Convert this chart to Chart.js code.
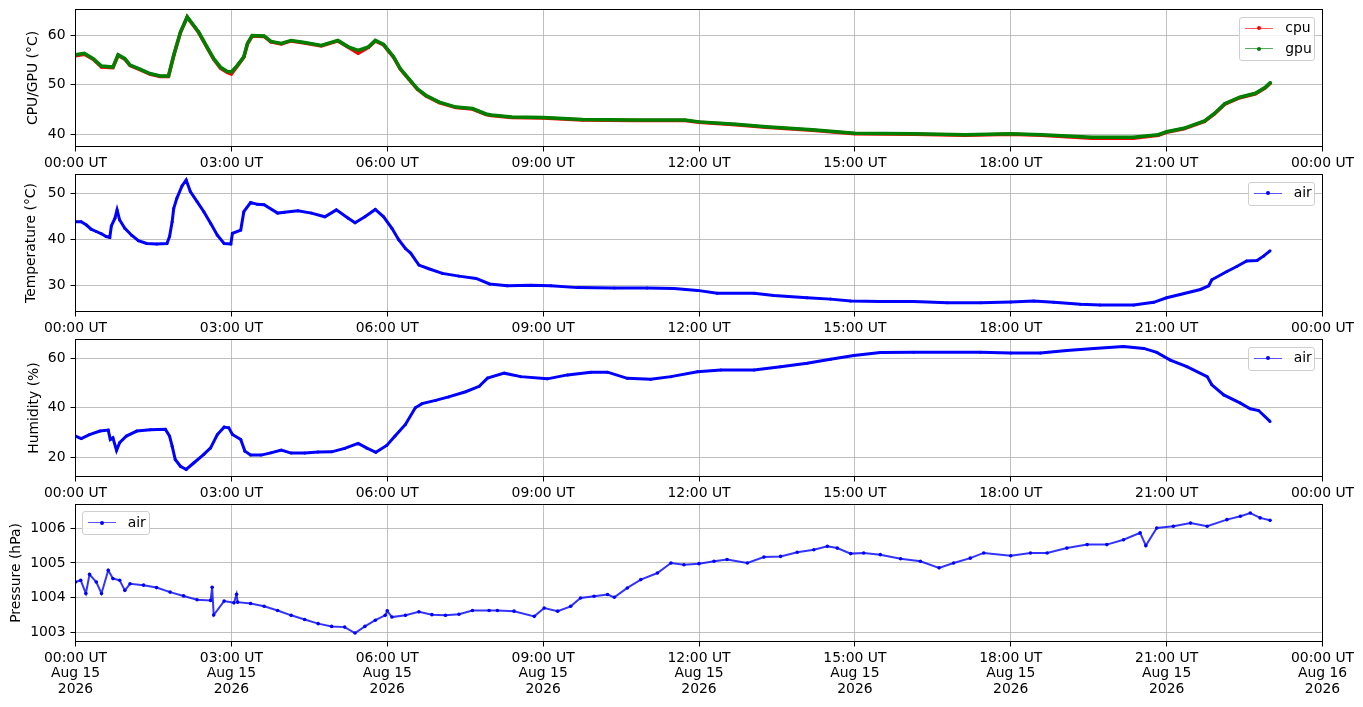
<!DOCTYPE html>
<html><head><meta charset="utf-8">
<script src="https://cdn.jsdelivr.net/npm/chart.js@4.4.1/dist/chart.umd.min.js"></script>
<style>
html,body{margin:0;padding:0;background:#fff;}
body{width:1363px;height:707px;position:relative;overflow:hidden;font-family:"DejaVu Sans",sans-serif;}
canvas{position:absolute;left:0;}
.legend{position:absolute;background:rgba(255,255,255,0.8);border:1px solid #cfcfcf;border-radius:3px;box-sizing:border-box;font-size:13.9px;color:#000;}
.sample{position:absolute;width:28px;height:1px;left:5px;}
.dot{position:absolute;width:4px;height:4px;border-radius:50%;}
.lbl{position:absolute;white-space:nowrap;line-height:16px;left:45px;}
</style></head><body>
<canvas id="c1" width="1363" height="190" style="top:0px"></canvas>
<canvas id="c2" width="1363" height="190" style="top:165px"></canvas>
<canvas id="c3" width="1363" height="190" style="top:330px"></canvas>
<canvas id="c4" width="1363" height="212" style="top:495px"></canvas>
<script>
// ---- axis tick labels ----
const hourTicks = [0, 3, 6, 9, 12, 15, 18, 21, 24];
const hourLabels = ['00:00 UT','03:00 UT','06:00 UT','09:00 UT','12:00 UT','15:00 UT','18:00 UT','21:00 UT','00:00 UT'];
const dateLabels = ['Aug 15','Aug 15','Aug 15','Aug 15','Aug 15','Aug 15','Aug 15','Aug 15','Aug 16'];
const yearLabels = ['2026','2026','2026','2026','2026','2026','2026','2026','2026'];

const cpuGpuTicks = [40, 50, 60];
const tempTicks = [30, 40, 50];
const humidityTicks = [20, 40, 60];
const pressureTicks = [1003, 1004, 1005, 1006];

// ---- panel 1: CPU / GPU temperature (hours UT) ----
const cpuGpuHours = [0.00,0.17,0.34,0.50,0.72,0.82,0.95,1.05,1.24,1.43,1.63,1.79,1.89,2.02,2.15,2.20,2.37,2.53,2.66,2.79,2.92,3.00,3.12,3.24,3.31,3.40,3.63,3.76,3.96,4.15,4.41,4.73,5.05,5.25,5.44,5.64,5.77,5.93,6.02,6.12,6.25,6.41,6.58,6.74,7.00,7.32,7.64,7.90,8.00,8.39,9.00,9.76,10.75,11.73,12.00,12.71,13.29,14.18,15.00,16.14,17.12,18.00,18.59,19.57,20.35,20.84,21.00,21.33,21.73,21.92,22.12,22.41,22.71,22.90,23.00];
const gpuValues = [56.1,56.4,55.3,53.8,53.6,56.1,55.3,54.0,53.2,52.3,51.8,51.8,56.0,60.7,63.8,63.1,60.7,57.7,55.3,53.6,52.7,52.6,54.0,55.7,58.4,60.0,59.9,58.8,58.4,59.0,58.6,58.0,59.0,57.7,57.0,57.7,59.0,58.2,57.0,55.7,53.3,51.3,49.2,47.9,46.5,45.5,45.2,44.1,43.9,43.5,43.4,43.0,42.9,42.9,42.5,42.0,41.5,40.9,40.2,40.1,39.9,40.1,39.9,39.4,39.4,39.9,40.5,41.2,42.7,44.2,46.2,47.5,48.3,49.5,50.5];
const cpuValues = [55.9,56.2,55.2,53.6,53.5,56.0,55.2,53.9,53.1,52.2,51.7,51.7,55.9,60.6,63.7,63.0,60.6,57.6,55.2,53.4,52.5,52.2,53.9,55.6,58.3,59.9,59.8,58.7,58.3,58.9,58.5,57.9,58.9,57.6,56.4,57.6,58.9,58.1,56.9,55.6,53.2,51.2,49.1,47.8,46.4,45.4,45.1,44.0,43.8,43.4,43.3,42.9,42.8,42.8,42.4,41.9,41.4,40.8,40.1,40.0,39.8,40.0,39.8,39.2,39.2,39.8,40.4,41.1,42.6,44.1,46.1,47.4,48.2,49.4,50.4];

// ---- panel 2: air temperature ----
const airTempHours = [0.00,0.11,0.21,0.30,0.40,0.50,0.59,0.66,0.69,0.76,0.80,0.85,0.95,1.08,1.21,1.37,1.56,1.76,1.81,1.86,1.89,1.95,2.05,2.13,2.21,2.34,2.47,2.60,2.73,2.86,2.99,3.02,3.18,3.24,3.37,3.50,3.63,3.89,4.02,4.28,4.54,4.80,5.02,5.25,5.38,5.57,5.77,5.93,6.09,6.22,6.35,6.45,6.61,6.80,7.06,7.38,7.71,7.97,8.31,8.76,9.15,9.66,10.37,11.00,11.52,11.97,12.35,13.06,13.44,14.08,14.53,14.92,15.49,16.13,16.78,17.42,18.00,18.44,18.83,19.34,19.72,20.37,20.75,21.00,21.26,21.65,21.81,21.87,22.16,22.35,22.54,22.74,22.87,22.99];
const airTempValues = [43.8,43.8,43.1,42.2,41.7,41.2,40.6,40.4,42.9,44.6,46.4,44.2,42.4,40.9,39.7,39.1,39.0,39.1,40.6,43.8,46.7,48.9,51.6,52.9,50.4,48.2,46.0,43.5,40.9,39.1,39.0,41.3,42.0,46.0,48.0,47.6,47.5,45.7,45.9,46.2,45.7,44.9,46.4,44.6,43.6,44.9,46.5,44.9,42.4,39.9,38.0,37.0,34.4,33.6,32.6,32.0,31.5,30.3,29.9,30.0,29.9,29.5,29.4,29.4,29.3,28.9,28.3,28.3,27.8,27.3,27.0,26.6,26.5,26.5,26.2,26.2,26.4,26.6,26.3,25.9,25.7,25.7,26.3,27.3,28.0,29.1,29.9,31.2,33.0,34.1,35.3,35.4,36.4,37.5];

// ---- panel 3: air humidity ----
const humidityHours = [0.00,0.11,0.27,0.47,0.63,0.67,0.72,0.79,0.85,0.98,1.18,1.44,1.73,1.81,1.86,1.92,2.02,2.13,2.28,2.47,2.60,2.73,2.86,2.95,3.02,3.18,3.26,3.37,3.57,3.76,3.96,4.15,4.41,4.67,4.93,5.18,5.44,5.60,5.78,5.99,6.15,6.35,6.54,6.67,6.93,7.18,7.51,7.77,7.93,8.25,8.57,9.08,9.47,9.92,10.24,10.62,11.07,11.46,11.97,12.42,13.06,13.57,14.08,14.53,14.98,15.49,16.13,17.42,18.00,18.57,19.08,19.60,20.17,20.56,20.81,21.07,21.39,21.78,21.87,22.10,22.42,22.61,22.77,22.99];
const humidityValues = [28.6,27.6,29.2,30.6,31.0,27.2,27.9,22.8,25.9,28.6,30.6,31.1,31.3,28.6,24.5,19.1,16.4,15.1,17.8,21.2,23.8,29.2,32.2,31.9,29.2,27.2,22.5,20.9,20.9,21.8,22.9,21.7,21.7,22.1,22.2,23.6,25.6,23.8,22.0,24.8,28.6,33.3,40.0,41.7,43.0,44.4,46.5,48.7,52.0,54.0,52.6,51.7,53.3,54.4,54.4,51.9,51.5,52.6,54.6,55.3,55.3,56.6,58.0,59.6,61.1,62.3,62.4,62.4,62.1,62.1,63.2,64.0,64.8,64.0,62.4,59.3,56.6,52.6,49.3,45.2,41.9,39.6,38.9,34.5];

// ---- panel 4: air pressure ----
const pressureHours = [0.00,0.10,0.20,0.27,0.40,0.50,0.63,0.72,0.85,0.95,1.05,1.31,1.56,1.82,2.08,2.34,2.60,2.63,2.66,2.86,3.05,3.10,3.12,3.37,3.63,3.89,4.15,4.41,4.67,4.93,5.18,5.38,5.57,5.77,5.96,6.00,6.09,6.35,6.61,6.86,7.12,7.38,7.64,7.96,8.12,8.44,8.83,9.02,9.28,9.53,9.72,9.98,10.24,10.37,10.62,10.88,11.20,11.46,11.71,12.00,12.29,12.54,12.93,13.25,13.57,13.89,14.21,14.47,14.66,14.92,15.17,15.49,15.88,16.26,16.62,16.90,17.22,17.48,18.00,18.38,18.70,19.08,19.47,19.85,20.17,20.49,20.60,20.81,21.13,21.46,21.78,22.16,22.42,22.61,22.80,22.99];
const pressureValues = [1004.45,1004.50,1004.12,1004.67,1004.45,1004.12,1004.79,1004.55,1004.50,1004.21,1004.40,1004.36,1004.29,1004.16,1004.05,1003.94,1003.92,1004.30,1003.50,1003.90,1003.85,1004.10,1003.87,1003.83,1003.75,1003.63,1003.49,1003.37,1003.25,1003.17,1003.15,1002.98,1003.17,1003.35,1003.49,1003.62,1003.44,1003.49,1003.59,1003.51,1003.49,1003.52,1003.63,1003.63,1003.63,1003.61,1003.46,1003.70,1003.61,1003.75,1003.99,1004.04,1004.09,1004.01,1004.28,1004.52,1004.71,1005.00,1004.95,1004.98,1005.05,1005.10,1005.00,1005.17,1005.19,1005.31,1005.38,1005.48,1005.43,1005.27,1005.29,1005.24,1005.12,1005.05,1004.86,1005.00,1005.14,1005.29,1005.21,1005.29,1005.29,1005.43,1005.53,1005.53,1005.67,1005.87,1005.50,1006.01,1006.06,1006.15,1006.06,1006.25,1006.35,1006.44,1006.30,1006.23];

function pts(hours, values) {
  const n = Math.min(hours.length, values.length);
  const out = [];
  for (let i = 0; i < n; i++) out.push({x: hours[i], y: values[i]});
  return out;
}

Chart.defaults.font.family = '"DejaVu Sans", sans-serif';
Chart.defaults.color = '#000';

const framePlugin = {
  id: 'frame',
  afterDraw(chart) {
    const {ctx, chartArea: a} = chart;
    ctx.save();
    ctx.strokeStyle = '#000';
    ctx.lineWidth = 1;
    ctx.strokeRect(a.left, a.top, a.right - a.left, a.bottom - a.top);
    ctx.restore();
  }
};

const PLOT_TOP = 9.5, PLOT_H = 137, PLOT_LEFT = 75.5, PAD_RIGHT = 40.5;

function makePanel(id, canvasH, datasets, yMin, yMax, yTicks, yTitle, titleCenter, bottom) {
  const grid = {color: '#b0b0b0', lineWidth: 0.8, tickColor: '#000', tickLength: 5, tickWidth: 1, drawTicks: true};
  new Chart(document.getElementById(id), {
    type: 'line',
    data: {datasets},
    options: {
      responsive: false,
      animation: false,
      events: [],
      layout: {padding: {top: PLOT_TOP, left: 0, right: PAD_RIGHT, bottom: 0}},
      plugins: {legend: {display: false}, tooltip: {enabled: false}},
      elements: {line: {tension: 0}},
      scales: {
        x: {
          type: 'linear', min: 0, max: 24,
          afterBuildTicks: s => { s.ticks = hourTicks.map(v => ({value: v})); },
          afterFit: s => { s.height = canvasH - PLOT_TOP - PLOT_H; s.paddingLeft = 0; s.paddingRight = 0; },
          grid: grid,
          border: {display: false},
          ticks: {
            autoSkip: false, maxRotation: 0, minRotation: 0, padding: 4,
            font: {size: 13.9, lineHeight: 1.115},
            callback: (v) => {
              const i = hourTicks.indexOf(v);
              return bottom ? [hourLabels[i], dateLabels[i], yearLabels[i]] : hourLabels[i];
            }
          }
        },
        y: {
          min: yMin, max: yMax,
          afterBuildTicks: s => { s.ticks = yTicks.map(v => ({value: v})); },
          afterFit: s => { s.width = PLOT_LEFT; s.paddingTop = 0; s.paddingBottom = 0; },
          grid: grid,
          border: {display: false},
          ticks: {padding: 5, font: {size: 13.9}, callback: v => String(v)},
          title: {display: true, text: yTitle, font: {size: 13.9, lineHeight: 1.2}, padding: {top: titleCenter - 8.34, bottom: 0}}
        }
      }
    },
    plugins: [framePlugin]
  });
}

function ds(label, data, color, lineColor, width, radius, order) {
  return {label, data, borderColor: lineColor, backgroundColor: color, pointBackgroundColor: color,
    pointBorderColor: color, pointRadius: radius, pointBorderWidth: 0, borderWidth: width, order, fill: false};
}

makePanel('c1', 190, [
  ds('cpu', pts(cpuGpuHours, cpuValues), '#ff0000', '#ff0000', 3.5, 1.5, 1),
  ds('gpu', pts(cpuGpuHours, gpuValues), '#008000', '#008000', 3.5, 1.5, 0)
], 37.51, 65.27, cpuGpuTicks, 'CPU/GPU (°C)', 33.8, false);

makePanel('c2', 190, [
  ds('air', pts(airTempHours, airTempValues), '#0000ff', '#0000ff', 3, 1.5, 0)
], 24.31, 54.09, tempTicks, 'Temperature (°C)', 31.7, false);

makePanel('c3', 190, [
  ds('air', pts(humidityHours, humidityValues), '#0000ff', '#0000ff', 3, 1.5, 0)
], 12.25, 67.6, humidityTicks, 'Humidity (%)', 34.3, false);

makePanel('c4', 212, [
  ds('air', pts(pressureHours, pressureValues), '#0000ff', 'rgba(0,0,255,0.8)', 2, 1.8, 0)
], 1002.735, 1006.687, pressureTicks, 'Pressure (hPa)', 16.3, true);

// ---- legends (HTML text) ----
function makeLegend(left, top, width, entries) {
  const box = document.createElement('div');
  box.className = 'legend';
  box.style.left = left + 'px';
  box.style.top = top + 'px';
  box.style.width = width + 'px';
  box.style.height = (24 + (entries.length - 1) * 20.7) + 'px';
  entries.forEach((e, i) => {
    const ly = 11.6 + i * 20.7 - 1;
    const line = document.createElement('div');
    line.className = 'sample';
    line.style.top = (ly - 0.5) + 'px';
    line.style.background = e.color;
    line.style.opacity = '0.65';
    box.appendChild(line);
    const dot = document.createElement('div');
    dot.className = 'dot';
    dot.style.left = '17px';
    dot.style.top = (ly - 2) + 'px';
    dot.style.background = e.color;
    box.appendChild(dot);
    const t = document.createElement('div');
    t.className = 'lbl';
    t.style.top = (ly - 9) + 'px';
    t.textContent = e.label;
    box.appendChild(t);
  });
  document.body.appendChild(box);
}
makeLegend(1239.3, 16.7, 76, [{label: 'cpu', color: '#ff0000'}, {label: 'gpu', color: '#008000'}]);
makeLegend(1247.7, 181.7, 67.6, [{label: 'air', color: '#0000ff'}]);
makeLegend(1247.7, 346.7, 67.6, [{label: 'air', color: '#0000ff'}]);
makeLegend(81.7, 511, 68.6, [{label: 'air', color: '#0000ff'}]);
</script>
</body></html>
